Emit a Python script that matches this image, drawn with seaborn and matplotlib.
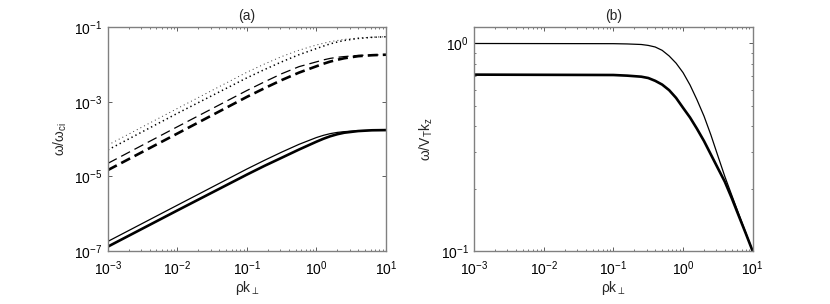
import matplotlib
matplotlib.use('Agg')
import matplotlib.pyplot as plt
import seaborn as sns
from matplotlib.ticker import LogLocator, FixedLocator, NullLocator, NullFormatter

# ---------------- panel (a): omega / omega_ci ----------------
k_a = [1e-3, 1e-2, 1e-1, 0.178, 0.316, 0.562, 1.0, 1.26, 1.58, 2.0, 2.51, 3.98, 6.31, 10.0]

solid_thin = [1.82e-7, 1.70e-6, 1.58e-5, 2.69e-5, 4.47e-5, 7.24e-5, 1.10e-4,
              1.26e-4, 1.40e-4, 1.51e-4, 1.58e-4, 1.68e-4, 1.72e-4, 1.74e-4]
solid_thick = [1.32e-7, 1.23e-6, 1.12e-5, 1.91e-5, 3.16e-5, 5.25e-5, 8.51e-5,
               1.02e-4, 1.19e-4, 1.35e-4, 1.48e-4, 1.64e-4, 1.72e-4, 1.74e-4]
dash_thin = [2.24e-5, 2.14e-4, 2.00e-3, 3.39e-3, 5.62e-3, 8.71e-3, 1.17e-2,
             1.32e-2, 1.45e-2, 1.55e-2, 1.62e-2, 1.74e-2, 1.78e-2, 1.82e-2]
dash_thick = [1.48e-5, 1.41e-4, 1.35e-3, 2.29e-3, 3.80e-3, 6.03e-3, 8.91e-3,
              1.04e-2, 1.19e-2, 1.33e-2, 1.46e-2, 1.66e-2, 1.76e-2, 1.82e-2]
dot_thin = [6.92e-5, 6.61e-4, 6.17e-3, 1.02e-2, 1.62e-2, 2.40e-2, 3.31e-2,
            3.67e-2, 4.07e-2, 4.37e-2, 4.68e-2, 5.07e-2, 5.37e-2, 5.50e-2]
dot_thick = [5.13e-5, 4.90e-4, 4.37e-3, 7.24e-3, 1.17e-2, 1.82e-2, 2.66e-2,
             3.09e-2, 3.55e-2, 3.98e-2, 4.37e-2, 4.95e-2, 5.31e-2, 5.50e-2]

# ---------------- panel (b): omega / V_T k_z ----------------
k_b = [1e-3, 1e-1, 0.158, 0.251, 0.316, 0.398, 0.501, 0.631, 0.794, 1.0,
       1.26, 1.58, 2.0, 2.51, 3.16, 3.98, 5.01, 6.31, 7.94, 10.0]
phase_thin = [1.0, 0.998, 0.995, 0.989, 0.979, 0.962, 0.927, 0.871, 0.804, 0.724,
              0.631, 0.537, 0.447, 0.363, 0.288, 0.229, 0.186, 0.151, 0.123, 0.1]
phase_thick = [0.708, 0.705, 0.700, 0.692, 0.682, 0.661, 0.634, 0.596, 0.547, 0.490,
               0.440, 0.389, 0.339, 0.292, 0.251, 0.216, 0.180, 0.148, 0.122, 0.1]

x_ticks = [1e-3, 1e-2, 1e-1, 1e0, 1e1]
ya_ticks = [1e-7, 1e-5, 1e-3, 1e-1]
yb_ticks = [1e-1, 1e0]

sns.set_theme(style='white')
plt.rcParams.update({
    'font.family': ['Liberation Sans', 'DejaVu Sans'],
    'mathtext.fontset': 'custom',
    'mathtext.rm': 'Liberation Sans',
    'mathtext.it': 'Liberation Sans',
    'mathtext.bf': 'Liberation Sans:bold',
    'xtick.direction': 'in', 'ytick.direction': 'in',
    'xtick.top': True, 'ytick.right': True,
    'xtick.bottom': True, 'ytick.left': True,
    'axes.edgecolor': '#808080', 'axes.linewidth': 1.0,
    'xtick.color': '#444444', 'ytick.color': '#444444',
    'xtick.labelcolor': 'black', 'ytick.labelcolor': 'black',
    'xtick.major.size': 3.0, 'ytick.major.size': 3.0,
    'xtick.minor.size': 1.6, 'ytick.minor.size': 1.6,
    'xtick.major.width': 0.6, 'ytick.major.width': 0.6,
    'xtick.minor.width': 0.5, 'ytick.minor.width': 0.5,
    'xtick.major.pad': 6, 'ytick.major.pad': 4,
    'xtick.labelsize': 10, 'ytick.labelsize': 10,
    'axes.labelsize': 10, 'axes.titlesize': 10,
})

fig = plt.figure(figsize=(8.3, 3.04), dpi=100)
ax_a = fig.add_axes([0.130, 0.174, 0.335, 0.737])
ax_b = fig.add_axes([0.5714, 0.174, 0.3354, 0.737])

thin, thick = 0.9, 1.9

sns.lineplot(x=k_a, y=solid_thin, ax=ax_a, color='black', lw=thin)
sns.lineplot(x=k_a, y=solid_thick, ax=ax_a, color='black', lw=thick)
sns.lineplot(x=k_a, y=dash_thin, ax=ax_a, color='black', lw=thin, linestyle=(0, (8.0, 4.0)))
sns.lineplot(x=k_a, y=dash_thick, ax=ax_a, color='black', lw=thick, linestyle=(0, (3.8, 1.9)))
sns.lineplot(x=k_a, y=dot_thin, ax=ax_a, color='#333333', lw=0.7, linestyle=(0, (1.0, 3.2)))
sns.lineplot(x=k_a, y=dot_thick, ax=ax_a, color='black', lw=1.1, linestyle=(0, (0.9, 2.0)))

sns.lineplot(x=k_b, y=phase_thin, ax=ax_b, color='black', lw=thin)
sns.lineplot(x=k_b, y=phase_thick, ax=ax_b, color='black', lw=thick)

for ax in (ax_a, ax_b):
    ax.set_xscale('log')
    ax.set_yscale('log')
    ax.set_xlim(1e-3, 1e1)
    ax.xaxis.set_major_locator(FixedLocator(x_ticks))
    ax.xaxis.set_minor_locator(LogLocator(base=10, subs=range(2, 10), numticks=20))
    ax.xaxis.set_minor_formatter(NullFormatter())
    ax.set_xlabel(r'$\mathrm{\rho k_{\perp}}$', labelpad=1)
    ax.tick_params(which='both', top=True, right=True, direction='in')
    for s in ax.spines.values():
        s.set_visible(True)
        s.set_color('#808080')

ax_a.set_ylim(1e-7, 1e-1)
ax_a.yaxis.set_major_locator(FixedLocator(ya_ticks))
ax_a.yaxis.set_minor_locator(NullLocator())
ax_a.set_ylabel(r'$\mathrm{\omega/\omega_{ci}}$')
ax_a.set_title('(a)', pad=5)

ax_b.set_ylim(1e-1, 1.2)
ax_b.yaxis.set_major_locator(FixedLocator(yb_ticks))
ax_b.yaxis.set_minor_locator(LogLocator(base=10, subs=range(2, 10), numticks=20))
ax_b.yaxis.set_minor_formatter(NullFormatter())
ax_b.set_ylabel(r'$\mathrm{\omega/V_T k_z}$')
ax_b.set_title('(b)', pad=5)

fig.savefig('out.png', dpi=100, facecolor='white')
